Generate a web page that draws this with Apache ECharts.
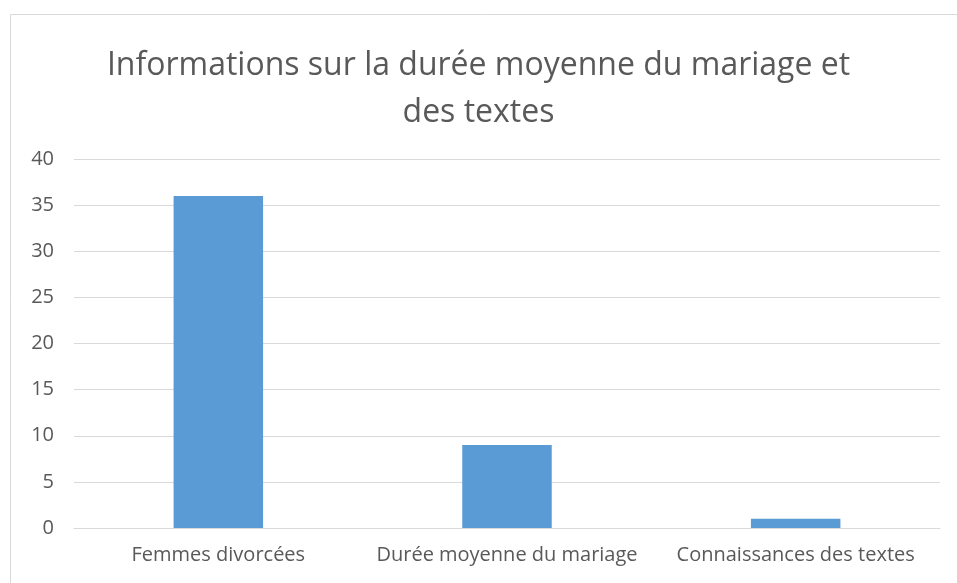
<!DOCTYPE html>
<html><head><meta charset="utf-8">
<script src="https://cdn.jsdelivr.net/npm/echarts@6/dist/echarts.min.js"></script>
<style>html,body{margin:0;padding:0;background:#fff}#c{width:957px;height:583px}</style>
</head><body><div id="c"></div>
<script>
const titleText = "Informations sur la durée moyenne du mariage et\ndes textes";
const categories = ["Femmes divorcées", "Durée moyenne du mariage", "Connaissances des textes"];
const values = [36, 9, 1];
const yTicks = {min: 0, max: 40, interval: 5};

const chart = echarts.init(document.getElementById('c'));
chart.setOption({
  animation: false,
  backgroundColor: '#fff',
  graphic: [{type: 'rect', shape: {x: 10.5, y: 14.5, width: 960, height: 600}, style: {fill: 'none', stroke: '#d9d9d9', lineWidth: 1}, silent: true}],
  title: {
    text: titleText, left: 'center', top: 37,
    textStyle: {fontFamily: 'Open Sans', fontSize: 32, fontWeight: 'normal', color: '#595959', lineHeight: 47}
  },
  grid: {left: 74, right: 17, top: 159, bottom: 55},
  xAxis: {
    type: 'category', data: categories,
    axisLine: {lineStyle: {color: '#d9d9d9'}}, axisTick: {show: false},
    axisLabel: {fontFamily: 'Open Sans', fontSize: 20, color: '#595959', margin: 17, interval: 0}
  },
  yAxis: {
    type: 'value', min: yTicks.min, max: yTicks.max, interval: yTicks.interval,
    axisLine: {show: false}, axisTick: {show: false},
    splitLine: {lineStyle: {color: '#d9d9d9'}},
    axisLabel: {fontFamily: 'Open Sans', fontSize: 20, color: '#595959', margin: 20}
  },
  series: [{type: 'bar', data: values, barWidth: '31%', itemStyle: {color: '#5b9bd5'}}]
});
</script></body></html>
